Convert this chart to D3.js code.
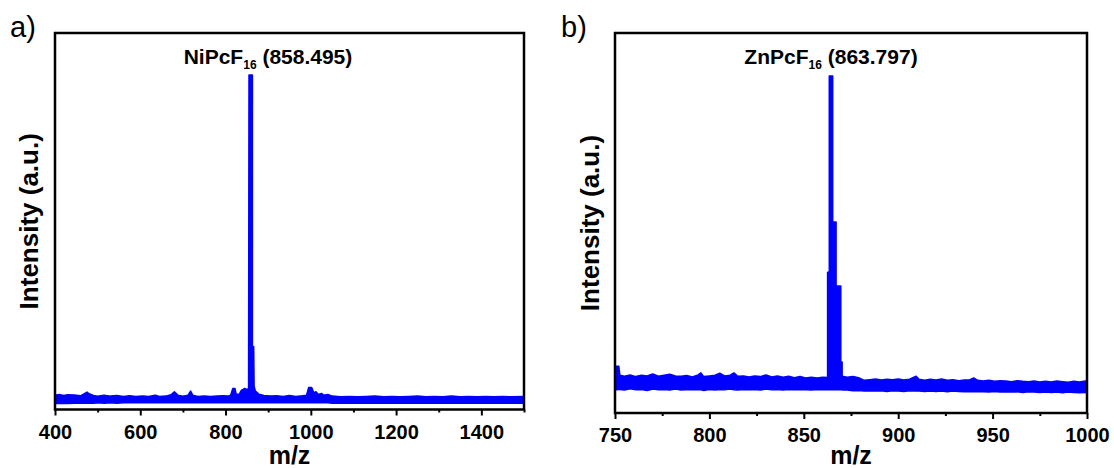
<!DOCTYPE html>
<html>
<head>
<meta charset="utf-8">
<title>MALDI spectra</title>
<script src="https://d3js.org/d3.v7.min.js"></script>
<style>
  body { margin: 0; background: #fff; }
  text { font-family: Arial, "Liberation Sans", sans-serif; fill: #000; }
</style>
</head>
<body>
<svg id="chart" width="1114" height="468"></svg>
<script>
// each entry: [m/z, lower edge of noisy trace, upper edge of trace] (a.u.)
const spectrumA = [
  [400,1.8,4.3],[410,1.8,4.5],[420,1.9,4.2],[430,1.8,4.4],[445,1.9,4.3],[460,1.9,4.1],
  [470,1.9,4.8],[475,1.9,5.2],[480,1.9,4.7],[490,1.9,4.2],[500,2.0,4.0],[515,1.9,4.3],
  [530,2.0,4.0],[545,1.9,4.2],[560,2.0,3.9],[575,2.0,4.1],[590,2.0,3.9],[605,2.0,4.0],
  [620,2.0,3.9],[635,2.0,4.3],[645,2.0,3.9],[660,2.0,4.0],[672,2.0,4.4],[680,2.0,5.3],
  [688,2.0,4.3],[700,2.0,4.0],[712,2.0,4.3],[718,2.0,5.5],[723,2.0,4.3],[735,2.0,3.9],
  [750,2.0,4.0],[765,2.0,3.9],[780,2.0,4.0],[795,2.0,4.1],[805,2.0,4.0],[812,2.0,4.3],
  [817,2.0,6.3],[822,2.0,6.3],[825,2.0,4.6],[832,2.0,4.5],[837,2.0,5.7],[845,2.0,6.3],
  [850,2.0,6.0],[854,2.0,6.2],[855,2.0,100],[863,2.0,100],[863,2.0,18.8],[866,2.0,18.8],
  [867,2.0,7.0],[870,2.0,5.5],[878,2.0,4.6],[890,2.0,4.2],[905,2.0,4.0],[920,2.0,4.1],
  [935,2.0,3.9],[950,2.0,4.2],[965,2.0,3.9],[980,2.0,4.1],[990,2.0,4.3],[995,2.0,6.6],
  [1002,2.0,6.6],[1007,2.0,5.0],[1012,2.0,5.3],[1018,2.0,4.5],[1025,2.0,4.8],[1030,2.0,4.3],
  [1040,2.0,4.5],[1050,1.9,4.0],[1070,1.9,3.8],[1090,1.9,3.9],[1110,1.9,3.8],[1130,1.9,3.9],
  [1150,1.9,4.0],[1170,1.9,3.8],[1190,1.9,3.9],[1210,1.9,3.8],[1230,1.9,3.9],[1250,1.9,4.0],
  [1270,1.9,3.8],[1290,1.9,3.9],[1310,1.9,3.8],[1330,1.9,4.0],[1350,1.9,3.8],[1370,1.9,3.9],
  [1390,1.9,3.8],[1410,1.9,3.9],[1430,1.9,3.8],[1450,1.9,3.9],[1470,1.9,3.8],[1500,1.9,3.9]
];

const spectrumB = [
  [750,6.9,10.8],[750.8,6.9,13.9],[752,7.0,13.9],[752.6,7.0,11.2],[755,6.8,10.9],[758,7.2,11.3],
  [761,6.9,10.8],[764,7.0,11.2],[767,6.7,11.0],[770,7.1,11.6],[773,6.9,10.9],[776,7.0,11.2],
  [779,6.8,11.5],[782,7.1,11.0],[785,6.8,10.9],[788,7.0,11.1],[791,6.9,10.7],[794,7.0,11.3],
  [795.5,6.9,11.9],[797,6.7,10.8],[800,7.0,11.0],[803,6.8,11.2],[805.5,7.0,11.8],[808,6.9,11.0],
  [811,7.1,11.2],[813,6.9,11.9],[815,6.8,10.9],[818,7.0,11.0],[821,6.9,10.7],[824,7.0,11.0],
  [827,6.8,10.8],[830,7.1,11.3],[833,6.9,10.7],[836,7.0,11.0],[839,6.8,10.6],[842,7.0,10.9],
  [845,6.9,10.5],[848,7.0,10.8],[851,6.9,10.4],[854,6.8,10.6],[857,7.0,10.4],[860,6.9,10.6],
  [862.6,6.9,10.5],[862.6,6.9,41.8],[863.5,6.9,41.8],[863.5,6.9,100],[865.3,6.9,100],
  [865.3,6.9,56.7],[867.1,6.9,56.7],[867.1,6.9,37.7],[869.6,6.9,37.7],[869.6,6.9,15.1],
  [870.3,6.9,15.1],[870.3,6.8,10.9],[873,6.8,10.6],[876,6.6,10.8],[879,6.7,10.5],[882,6.5,9.7],
  [885,6.6,9.9],[888,6.5,10.1],[891,6.6,9.8],[894,6.4,10.0],[897,6.6,9.9],[900,6.5,10.1],
  [903,6.4,9.8],[906,6.6,10.0],[909.5,6.5,10.9],[911,6.5,10.0],[914,6.4,9.7],[917,6.5,10.0],
  [920,6.4,9.8],[923,6.5,10.1],[926,6.3,9.7],[929,6.5,9.9],[932,6.4,9.6],[935,6.3,9.8],
  [938,6.4,9.9],[940,6.3,10.4],[942,6.4,9.7],[945,6.3,9.5],[948,6.2,9.7],[951,6.4,9.4],
  [954,6.2,9.6],[957,6.3,9.5],[960,6.2,9.3],[963,6.3,9.6],[966,6.1,9.4],[969,6.3,9.3],
  [972,6.2,9.5],[975,6.1,9.2],[978,6.2,9.4],[981,6.1,9.2],[984,6.2,9.5],[987,6.0,9.3],
  [990,6.2,9.1],[993,6.1,9.4],[996,6.0,9.2],[1000,6.1,9.6]
];

const majorTicksA = [400, 600, 800, 1000, 1200, 1400];
const minorTicksA = [500, 700, 900, 1100, 1300, 1500];
const majorTicksB = [750, 800, 850, 900, 950, 1000];
const minorTicksB = [775, 825, 875, 925, 975];

const panelLetters = ['a)', 'b)'];
const compoundNames = ['NiPcF', 'ZnPcF'];
const compoundSub = '16';
const peakMasses = ['(858.495)', '(863.797)'];
const xTitle = 'm/z';
const yTitle = 'Intensity (a.u.)';

const svg = d3.select('#chart');

function drawPanel(p) {
  const x = d3.scaleLinear().domain(p.xDomain).range([p.left, p.right]);
  const y = d3.scaleLinear().domain([0, 100]).range([p.bottom, p.peakTop]);

  const g = svg.append('g');

  // spectrum trace (noise band drawn as its min/max envelope)
  const area = d3.area()
    .x(d => x(d[0]))
    .y0(d => y(d[1]))
    .y1(d => y(d[2]));

  g.append('path')
    .datum(p.data)
    .attr('d', area)
    .attr('fill', '#0000ff')
    .attr('stroke', '#0000ff')
    .attr('stroke-width', 1.5)
    .attr('stroke-linejoin', 'round');

  // frame
  g.append('rect')
    .attr('x', p.left).attr('y', p.top)
    .attr('width', p.right - p.left).attr('height', p.bottom - p.top)
    .attr('fill', 'none').attr('stroke', '#000').attr('stroke-width', 2.5);

  // bottom axis: major + minor ticks
  const major = g.append('g')
    .attr('transform', `translate(0,${p.bottom})`)
    .call(d3.axisBottom(x).tickValues(p.major).tickSize(6).tickPadding(9).tickFormat(d3.format('d')));
  major.select('.domain').remove();
  major.selectAll('line').attr('stroke', '#000').attr('stroke-width', 2);
  major.selectAll('text')
    .attr('font-size', 20).attr('font-weight', 'bold')
    .attr('font-family', 'Arial, "Liberation Sans", sans-serif')
    .attr('fill', '#000');

  const minor = g.append('g')
    .attr('transform', `translate(0,${p.bottom})`)
    .call(d3.axisBottom(x).tickValues(p.minor).tickSize(3).tickFormat(''));
  minor.select('.domain').remove();
  minor.selectAll('line').attr('stroke', '#000').attr('stroke-width', 2);

  // axis titles
  g.append('text')
    .attr('x', (p.left + p.right) / 2).attr('y', 464)
    .attr('text-anchor', 'middle')
    .attr('font-size', 25).attr('font-weight', 'bold')
    .text(xTitle);

  g.append('text')
    .attr('transform', `translate(${p.yTitleX},${(p.top + p.bottom) / 2}) rotate(-90)`)
    .attr('text-anchor', 'middle')
    .attr('font-size', 26).attr('font-weight', 'bold')
    .text(yTitle);

  // panel letter
  g.append('text')
    .attr('x', p.letterX).attr('y', 37)
    .attr('font-size', 29)
    .text(p.letter);

  // peak annotation
  const ann = g.append('text')
    .attr('x', p.annX).attr('y', 64)
    .attr('text-anchor', 'middle')
    .attr('font-size', 21).attr('font-weight', 'bold');
  ann.append('tspan').text(p.name);
  ann.append('tspan').attr('font-size', 12).attr('dy', 5).text(compoundSub);
  ann.append('tspan').attr('dy', -5).text(' ' + p.mass);
}

drawPanel({
  data: spectrumA, xDomain: [400, 1500], major: majorTicksA, minor: minorTicksA,
  left: 55, right: 524, top: 33, bottom: 409.5, peakTop: 75,
  yTitleX: 38, letterX: 10, letter: panelLetters[0],
  annX: 268, name: compoundNames[0], mass: peakMasses[0]
});

drawPanel({
  data: spectrumB, xDomain: [750, 1000], major: majorTicksB, minor: minorTicksB,
  left: 615, right: 1087, top: 33, bottom: 413, peakTop: 76,
  yTitleX: 599, letterX: 561, letter: panelLetters[1],
  annX: 831, name: compoundNames[1], mass: peakMasses[1]
});
</script>
</body>
</html>
